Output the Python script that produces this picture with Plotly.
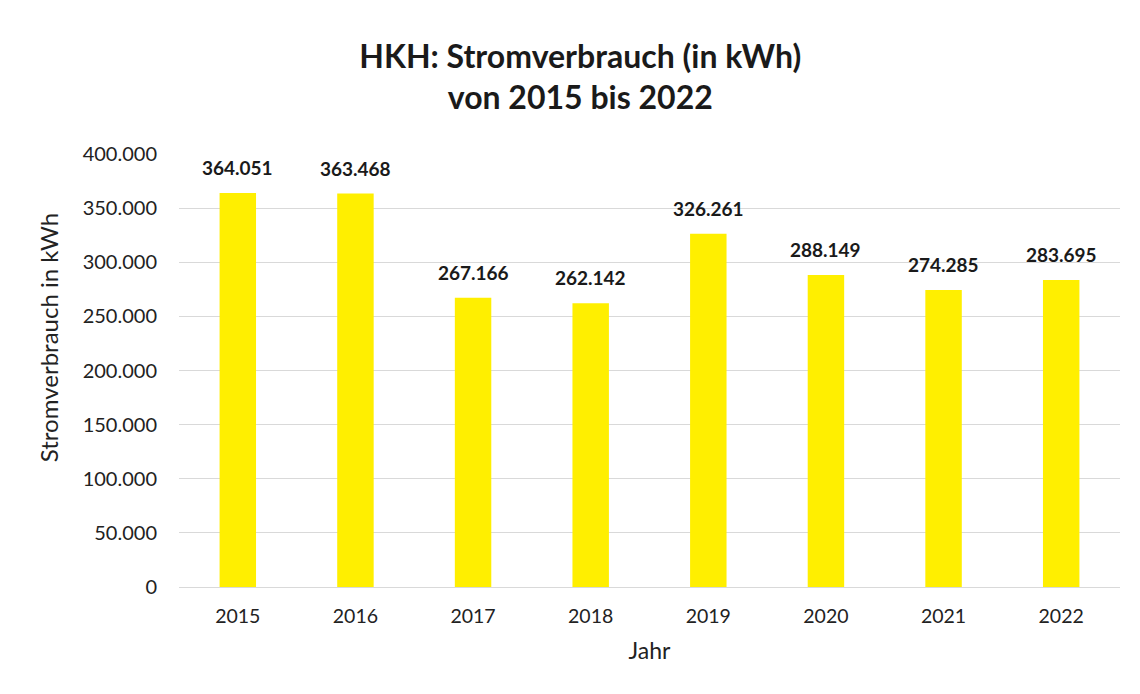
import plotly.graph_objects as go

years = ["2015", "2016", "2017", "2018", "2019", "2020", "2021", "2022"]
consumption_kwh = [364051, 363468, 267166, 262142, 326261, 288149, 274285, 283695]
y_ticks = [0, 50000, 100000, 150000, 200000, 250000, 300000, 350000, 400000]

font_family = "Lato, 'Open Sans', sans-serif"

fig = go.Figure(
    go.Bar(
        x=years,
        y=consumption_kwh,
        marker=dict(color="#FFEF00", line=dict(width=0)),
        hoverinfo="x+y",
    )
)

# value labels above the bars (category axis -> annotation x is the category index)
for i, val in enumerate(consumption_kwh):
    fig.add_annotation(
        x=i,
        y=val,
        xref="x",
        yref="y",
        text="<b>" + f"{val:,}".replace(",", ".") + "</b>",
        showarrow=False,
        yanchor="bottom",
        yshift=12,
        font=dict(size=19, color="#1a1a1a", family=font_family),
    )

# y-axis title (placed slightly above the plot centre, as in the reference)
fig.add_annotation(
    x=-0.139,
    y=0.575,
    xref="paper",
    yref="paper",
    text="Stromverbrauch in kWh",
    textangle=-90,
    showarrow=False,
    xanchor="center",
    yanchor="middle",
    font=dict(size=24, color="#222222", family=font_family),
)

fig.update_layout(
    width=1140,
    height=694,
    separators=",.",
    paper_bgcolor="white",
    plot_bgcolor="white",
    bargap=0.69,
    margin=dict(l=171, r=28, t=146, b=115),
    font=dict(family=font_family, color="#222222"),
    title=dict(
        text="<b>HKH: Stromverbrauch (in kWh)<br>von 2015 bis 2022</b>",
        x=0.502,
        xanchor="center",
        y=0.914,
        yanchor="middle",
        font=dict(size=32, color="#1a1a1a", family=font_family),
    ),
    showlegend=False,
)

fig.update_xaxes(
    type="category",
    categoryorder="array",
    categoryarray=years,
    range=[-0.5, len(years) - 0.5],
    title=dict(text="Jahr", font=dict(size=23), standoff=16),
    tickfont=dict(size=19.5),
    showgrid=False,
    showline=True,
    linecolor="#d9d9d9",
    linewidth=1,
    ticks="outside",
    ticklen=12,
    tickcolor="rgba(0,0,0,0)",
    automargin=False,
)

fig.update_yaxes(
    tickfont=dict(size=20),
    range=[0, 400000],
    tickvals=y_ticks,
    tickformat=",.0f",
    showgrid=True,
    gridcolor="#d9d9d9",
    gridwidth=1,
    zeroline=False,
    ticks="outside",
    ticklen=17,
    tickcolor="rgba(0,0,0,0)",
    automargin=False,
)

fig.write_html("out.html")
